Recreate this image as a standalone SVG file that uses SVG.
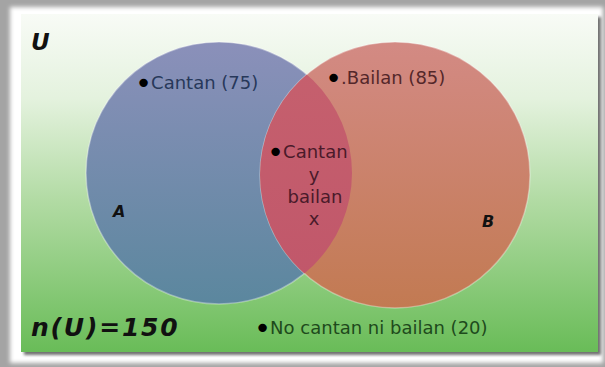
<svg xmlns="http://www.w3.org/2000/svg" width="605" height="367" viewBox="0 0 605 367">
  <style>
    .lbl { font-family: "DejaVu Sans", Verdana, sans-serif; font-size: 18px; }
    .set { font-family: "DejaVu Sans", Verdana, sans-serif; font-weight: bold; font-style: italic; fill: #111; }
    .dot { font-size: 29px; fill: #000; }
  </style>
  <defs>
    <linearGradient id="bgGreen" x1="0" y1="0" x2="0" y2="1">
      <stop offset="0" stop-color="#f8fbf6"/>
      <stop offset="0.25" stop-color="#e4f2de"/>
      <stop offset="0.55" stop-color="#b2dba4"/>
      <stop offset="1" stop-color="#69bc58"/>
    </linearGradient>
    <linearGradient id="gradA" x1="0" y1="0" x2="0" y2="1">
      <stop offset="0" stop-color="#8b90ba"/>
      <stop offset="1" stop-color="#5b879e"/>
    </linearGradient>
    <linearGradient id="gradB" x1="0" y1="0" x2="0" y2="1">
      <stop offset="0" stop-color="#d38a84"/>
      <stop offset="1" stop-color="#c27a52"/>
    </linearGradient>
    <linearGradient id="gradAB" x1="0" y1="0" x2="0" y2="1">
      <stop offset="0" stop-color="#c6616e"/>
      <stop offset="1" stop-color="#c0566a"/>
    </linearGradient>
    <clipPath id="clipA">
      <ellipse cx="219" cy="173" rx="133" ry="131"/>
    </clipPath>
    <filter id="soft" x="-5%" y="-5%" width="110%" height="110%">
      <feGaussianBlur stdDeviation="2"/>
    </filter>
    <filter id="shadow" x="-5%" y="-5%" width="110%" height="110%">
      <feGaussianBlur stdDeviation="1.5"/>
    </filter>
  </defs>

  <!-- frame -->
  <rect x="0" y="0" width="605" height="367" fill="#a4a4a4"/>
  <rect x="10" y="7" width="593" height="356" fill="#ffffff" filter="url(#soft)"/>
  <rect x="24" y="17" width="577" height="338" fill="#6f6f6f" filter="url(#shadow)"/>
  <rect x="21" y="14" width="577" height="338" fill="url(#bgGreen)"/>

  <!-- set A -->
  <g id="setA">
    <ellipse cx="219" cy="173" rx="133" ry="131" fill="url(#gradA)" stroke="#ffffff" stroke-opacity="0.35" stroke-width="1.5"/>
  </g>
  <!-- set B -->
  <g id="setB">
    <ellipse cx="395" cy="175" rx="135" ry="133" fill="url(#gradB)" stroke="#ffffff" stroke-opacity="0.35" stroke-width="1.5"/>
  </g>
  <!-- A ∩ B -->
  <g id="setAB">
    <ellipse cx="395" cy="175" rx="135" ry="133" fill="url(#gradAB)" clip-path="url(#clipA)"/>
  </g>

  <!-- connectors: none in this diagram -->
  <g id="connectors"/>

  <!-- labels -->
  <g id="labelU"><text class="set" x="31" y="50" font-size="23">U</text></g>
  <g id="labelA"><text class="set" x="113" y="217" font-size="16">A</text></g>
  <g id="labelB"><text class="set" x="482" y="227" font-size="16">B</text></g>
  <g id="labelN"><text class="set" x="31" y="336" font-size="25" letter-spacing="1.8">n(U)=150</text></g>

  <g id="textA">
    <text class="lbl" x="135" y="89" fill="#27385a"><tspan class="dot" dy="4">•</tspan><tspan dx="-1" dy="-4">Cantan (75)</tspan></text>
  </g>
  <g id="textB">
    <text class="lbl" x="325" y="84" fill="#54272a"><tspan class="dot" dy="4">•</tspan><tspan dx="-1" dy="-4">.Bailan (85)</tspan></text>
  </g>
  <g id="textAB" fill="#4a1a2a">
    <text class="lbl" x="267" y="158"><tspan class="dot" dy="4">•</tspan><tspan dx="-1" dy="-4">Cantan</tspan></text>
    <text class="lbl" x="314" y="181" text-anchor="middle">y</text>
    <text class="lbl" x="315" y="203" text-anchor="middle">bailan</text>
    <text class="lbl" x="314" y="225" text-anchor="middle">x</text>
  </g>
  <g id="textNone">
    <text class="lbl" x="254" y="334" fill="#1e4a1c"><tspan class="dot" dy="4">•</tspan><tspan dx="-1" dy="-4">No cantan ni bailan (20)</tspan></text>
  </g>
</svg>
